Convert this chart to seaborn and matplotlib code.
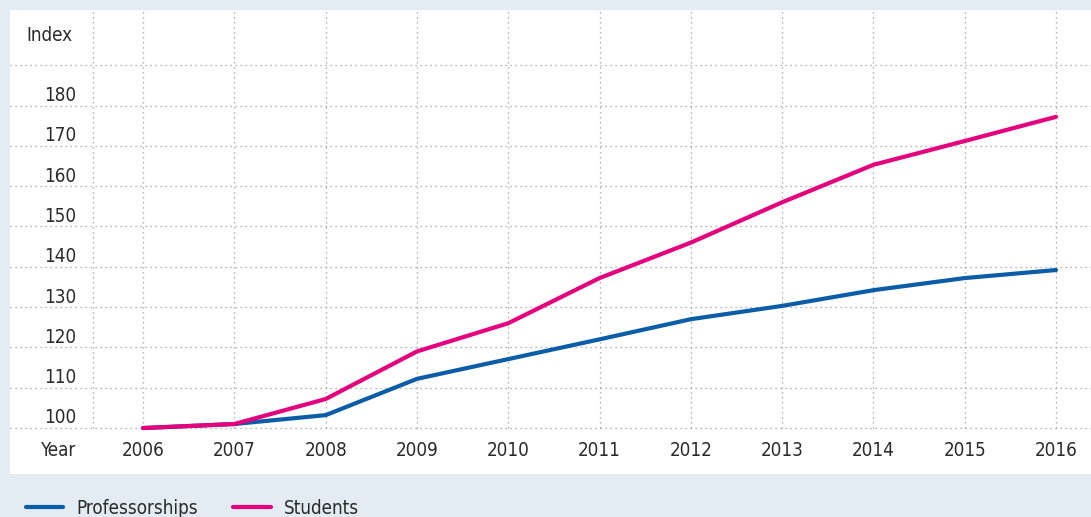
import matplotlib
matplotlib.use("Agg")
import matplotlib.pyplot as plt
import seaborn as sns
import pandas as pd

# data (index, 2006 = 100)
years = [2006, 2007, 2008, 2009, 2010, 2011, 2012, 2013, 2014, 2015, 2016]
professorships = [100, 101, 103.2, 112.2, 117.1, 122, 127, 130.3, 134.2, 137.2, 139.2]
students = [100, 101, 107.2, 119, 126, 137.2, 146, 156, 165.3, 171.2, 177.2]
y_ticks = [100, 110, 120, 130, 140, 150, 160, 170, 180]
y_grid = [100, 110, 120, 130, 140, 150, 160, 170, 180, 190]

series_names = ["Professorships", "Students"]
colors = {"Professorships": "#0B5DA8", "Students": "#E5007D"}

df = pd.DataFrame({"Year": years * 2,
                   "Index": professorships + students,
                   "Series": [series_names[0]] * len(years) + [series_names[1]] * len(years)})

sns.set_style("white")
plt.rcParams["font.family"] = ["DejaVu Sans"]
plt.rcParams["font.stretch"] = "condensed"

BG = "#E3ECF2"
fig = plt.figure(figsize=(10.91, 5.17), dpi=100, facecolor=BG)
ax = fig.add_axes([10 / 1091, 43 / 517, 1081 / 1091, 464 / 517])
ax.set_facecolor("white")

xmin, xmax = 2004.543, 2016.383
ymin, ymax = 88.6, 203.7
ax.set_xlim(xmin, xmax)
ax.set_ylim(ymin, ymax)

# dotted grid: horizontal lines run full width, vertical ones stop at 100
grid_kw = dict(color="#9a9a9a", linestyle=(0, (1, 3)), linewidth=0.9, zorder=0)
for v in y_grid:
    ax.axhline(v, **grid_kw)
ax.vlines(years + [2005.45], 100, ymax, **grid_kw)

sns.lineplot(data=df, x="Year", y="Index", hue="Series", palette=colors,
             linewidth=3, ax=ax, legend=False, zorder=3)

for s in ax.spines.values():
    s.set_visible(False)
ax.set_xticks([])
ax.set_yticks([])
ax.set_xlabel("")
ax.set_ylabel("")

txt = dict(fontsize=13.5, color="#2a2a2a", fontstretch="condensed")
# y labels sit just above their gridline
for v in y_ticks:
    ax.text(2005.27, v + 2.5, str(v), ha="right", va="center", **txt)
ax.text(2004.72, 197.3, "Index", ha="left", va="center", **txt)
ax.text(2005.27, 94.4, "Year", ha="right", va="center", **txt)
for yr in years:
    ax.text(yr, 94.4, str(yr), ha="center", va="center", **txt)

handles = [plt.Line2D([], [], color=colors[n], linewidth=3) for n in series_names]
fig.legend(handles, series_names, loc="center left", bbox_to_anchor=(0.008, 0.017),
           ncol=2, frameon=False, prop=dict(size=13.5, stretch="condensed"),
           handlelength=2.0, handletextpad=0.7, columnspacing=1.9,
           labelcolor="#2a2a2a")

plt.savefig("out.png", dpi=100, facecolor=BG)
plt.close()
